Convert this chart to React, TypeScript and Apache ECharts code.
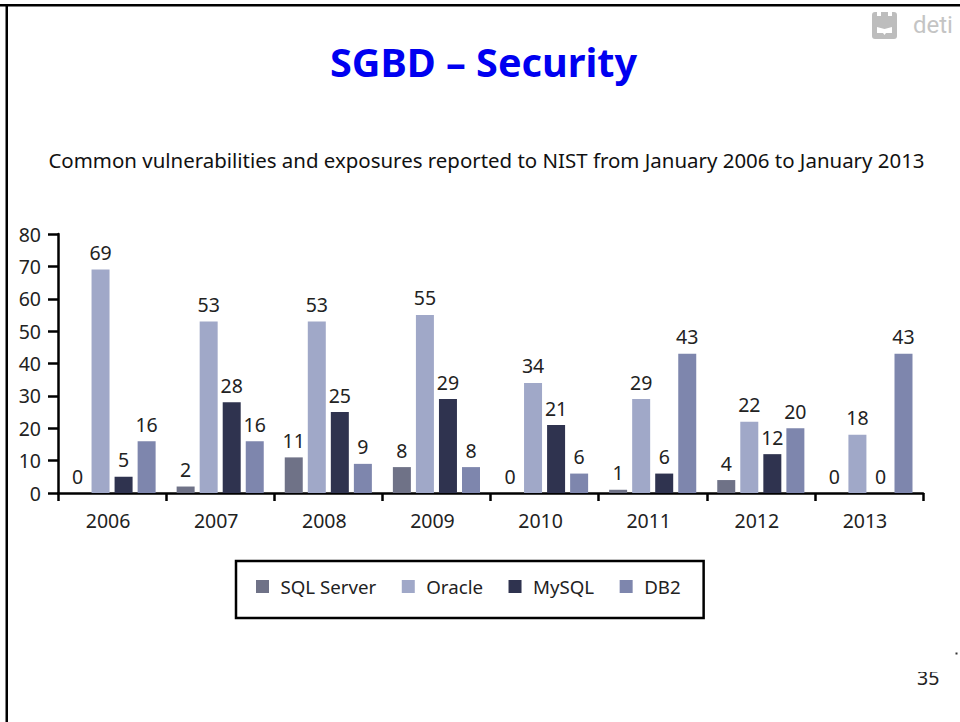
import React, { useEffect, useRef } from "react";
import * as echarts from "echarts";

const categories = ["2006", "2007", "2008", "2009", "2010", "2011", "2012", "2013"];
const sqlServer = [0, 2, 11, 8, 0, 1, 4, 0];
const oracle = [69, 53, 53, 55, 34, 29, 22, 18];
const mysql = [5, 28, 25, 29, 21, 6, 12, 0];
const db2 = [16, 16, 9, 8, 6, 43, 20, 43];
const titleText = "SGBD – Security";
const subtitleText = "Common vulnerabilities and exposures reported to NIST from January 2006 to January 2013";

const FONT = "'Noto Sans', sans-serif";
const INK = "#222222";

echarts.graphic.registerShape(
  "detiCastle",
  echarts.graphic.extendPath(
    "M0 3 Q0 0 3 0 L5 0 L5 4 L9 4 L9 0 L16 0 L16 4 L20 4 L20 0 L22 0 Q25 0 25 3 L25 24 Q25 27 22 27 L3 27 Q0 27 0 24 Z",
    {}
  )
);
echarts.graphic.registerShape(
  "detiBook",
  echarts.graphic.extendPath("M5 15 L12.5 17 L20 15 L20 21 L14 21 L12.5 23 L11 21 L5 21 Z", {})
);

const barSeries = (name: string, data: number[], color: string) => ({
  name,
  type: "bar",
  data,
  barWidth: 18,
  barGap: "28%",
  itemStyle: { color },
  label: {
    show: true,
    position: "top",
    distance: 7,
    fontFamily: FONT,
    fontSize: 19.5,
    color: INK,
  },
});

export default function App() {
  const ref = useRef<HTMLDivElement>(null);
  useEffect(() => {
    const chart = echarts.init(ref.current!, undefined, { renderer: "svg" });
    chart.setOption({
      animation: false,
      backgroundColor: "#ffffff",
      title: [
        {
          text: titleText,
          left: 478.5,
          top: 37,
          textAlign: "center",
          textStyle: { fontFamily: FONT, fontSize: 39.6, fontWeight: "bold", color: "#0000f0" },
        },
        {
          text: subtitleText,
          left: 481.5,
          top: 145,
          textAlign: "center",
          textStyle: { fontFamily: FONT, fontSize: 20.45, fontWeight: "normal", color: "#111111" },
        },
      ],
      grid: { left: 58, right: 37, top: 234, bottom: 229 },
      legend: {
        left: 236,
        top: 561,
        orient: "horizontal",
        icon: "rect",
        itemWidth: 13,
        itemHeight: 13,
        itemGap: 25.5,
        padding: [16, 23, 22, 20],
        borderColor: "#000000",
        borderWidth: 2.5,
        backgroundColor: "#ffffff",
        textStyle: { fontFamily: FONT, fontSize: 18.7, color: INK, padding: [0, 0, 0, 6.5] },
        data: ["SQL Server", "Oracle", "MySQL", "DB2"],
      },
      xAxis: {
        type: "category",
        data: categories,
        boundaryGap: true,
        axisLine: { lineStyle: { color: "#000000", width: 2.5 } },
        axisTick: { show: true, length: 8, lineStyle: { color: "#000000", width: 2.5 } },
        axisLabel: { fontFamily: FONT, fontSize: 19.5, color: INK, margin: 17, padding: [0, 8, 0, 0] },
      },
      yAxis: {
        type: "value",
        min: 0,
        max: 80,
        interval: 10,
        splitLine: { show: false },
        axisLine: { show: true, lineStyle: { color: "#000000", width: 2.5 } },
        axisTick: { show: true, length: 10, lineStyle: { color: "#000000", width: 2.5 } },
        axisLabel: { fontFamily: FONT, fontSize: 19.5, color: INK, margin: 17 },
      },
      series: [
        barSeries("SQL Server", sqlServer, "#6f7287"),
        barSeries("Oracle", oracle, "#a0a8c8"),
        barSeries("MySQL", mysql, "#2f334f"),
        barSeries("DB2", db2, "#7e86ad"),
      ],
      graphic: [
        { type: "rect", shape: { x: 0, y: 4, width: 960, height: 2.5 }, style: { fill: "#000000" } },
        { type: "rect", shape: { x: 5.5, y: 4, width: 2.5, height: 718 }, style: { fill: "#000000" } },
        { type: "detiCastle", x: 872, y: 12, style: { fill: "#bdbdbd" } },
        { type: "detiBook", x: 872, y: 12, style: { fill: "#ffffff" } },
        {
          type: "text",
          x: 913,
          y: 13,
          style: { text: "deti", fontFamily: "Roboto, sans-serif", fontSize: 24, fill: "#c4c4c4" },
        },
        {
          type: "text",
          x: 917,
          y: 667,
          style: { text: "35", fontFamily: FONT, fontSize: 19.5, fill: "#222222" },
        },
        { type: "rect", z: 10, shape: { x: 912, y: 660, width: 30, height: 12 }, style: { fill: "#ffffff" } },
        { type: "rect", shape: { x: 955.5, y: 652.5, width: 2, height: 2 }, style: { fill: "#333333" } },
      ],
    });
    return () => chart.dispose();
  }, []);
  return (
    <div
      ref={ref}
      style={{ position: "absolute", left: 0, top: 0, width: 960, height: 722, overflow: "hidden" }}
    />
  );
}
